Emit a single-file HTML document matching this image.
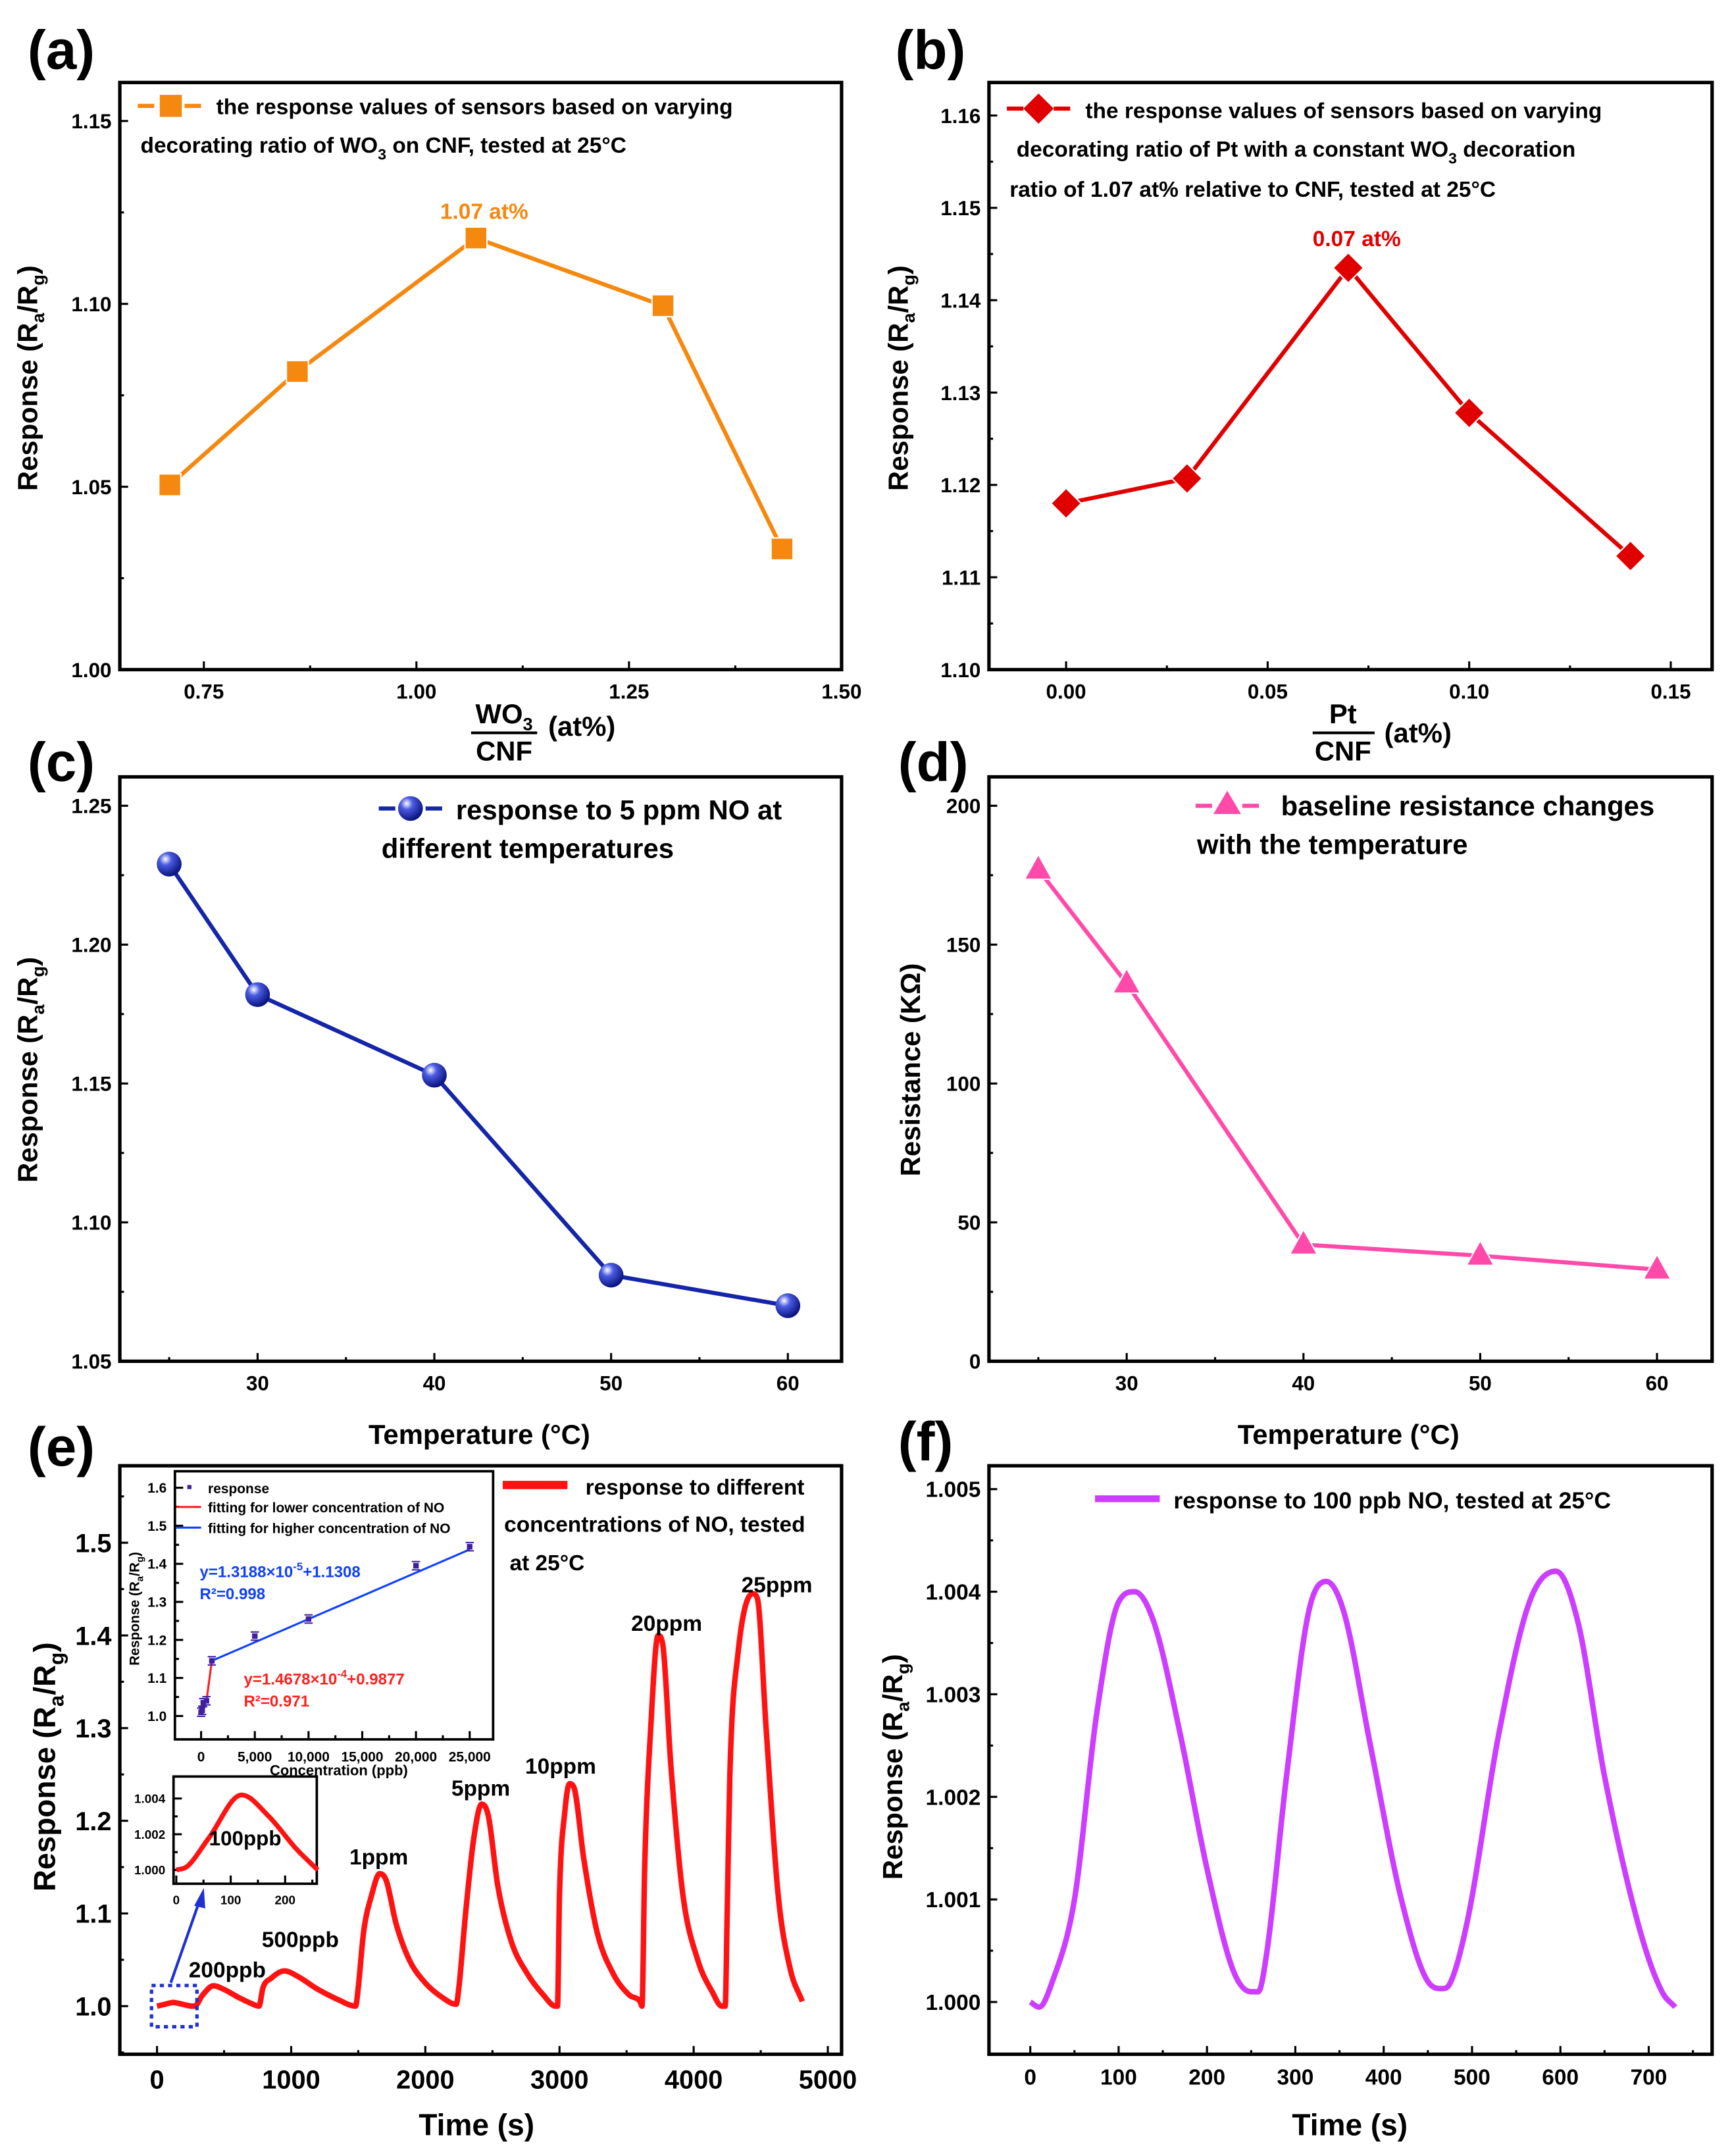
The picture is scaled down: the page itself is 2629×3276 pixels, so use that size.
<!DOCTYPE html>
<html><head><meta charset="utf-8"><style>
html,body{margin:0;padding:0;background:#fff}
svg{display:block}
text{font-family:"Liberation Sans",Arial,sans-serif;font-weight:bold}
</style></head><body>
<svg id="fig" xmlns="http://www.w3.org/2000/svg" width="2629" height="3276" viewBox="0 0 1256 1568" preserveAspectRatio="none">
<defs>
<radialGradient id="ball" cx="35%" cy="30%" r="70%"><stop offset="0" stop-color="#ffffff"/><stop offset="0.35" stop-color="#4a5be0"/><stop offset="1" stop-color="#0a1480"/></radialGradient>
</defs>
<g id="root"></g>
</svg>
<script>
// ---------- data ----------
const aX=[0.71,0.86,1.07,1.29,1.43];
const aY=[1.0505,1.0815,1.118,1.0995,1.033];
const aXTicks=[0.75,1.00,1.25,1.50];
const aYTicks=[1.00,1.05,1.10,1.15];
const bX=[0,0.03,0.07,0.10,0.14];
const bY=[1.118,1.1207,1.1435,1.1278,1.1123];
const bXTicks=[0.00,0.05,0.10,0.15];
const bYTicks=[1.10,1.11,1.12,1.13,1.14,1.15,1.16];
const cX=[25,30,40,50,60];
const cY=[1.229,1.182,1.153,1.081,1.070];
const cdXTicks=[30,40,50,60];
const cYTicks=[1.05,1.10,1.15,1.20,1.25];
const dY=[177,136,42,38,33];
const dYTicks=[0,50,100,150,200];
const eT=[0,60,120,190,260,280,340,420,500,600,700,760,790,850,950,1050,1200,1350,1480,1500,1540,1600,1660,1710,1780,1880,2000,2120,2230,2250,2300,2360,2420,2470,2540,2640,2760,2880,2970,2985,3000,3040,3075,3110,3180,3280,3400,3520,3600,3615,3635,3680,3735,3770,3830,3920,4030,4140,4210,4235,4250,4270,4330,4440,4475,4540,4630,4720,4810];
const eV=[1.0,1.002,1.004,1.002,1.0,1.0,1.012,1.022,1.018,1.01,1.003,1.0,1.02,1.03,1.038,1.032,1.018,1.007,1.0,1.02,1.08,1.12,1.143,1.135,1.09,1.05,1.025,1.01,1.002,1.02,1.10,1.18,1.218,1.205,1.13,1.07,1.035,1.012,1.0,1.0,1.12,1.21,1.24,1.235,1.16,1.08,1.035,1.012,1.005,1.0,1.15,1.30,1.40,1.39,1.26,1.12,1.05,1.015,1.0,1.0,1.10,1.25,1.38,1.445,1.44,1.30,1.12,1.04,1.005];
const eXTicks=[0,1000,2000,3000,4000,5000];
const eYTicks=[1.0,1.1,1.2,1.3,1.4,1.5];
const insX=[0,100,200,500,1000,5000,10000,20000,25000];
const insY=[1.01,1.015,1.035,1.04,1.145,1.21,1.255,1.395,1.445];
const insXTicks=[0,5000,10000,15000,20000,25000];
const insXLabels=["0","5,000","10,000","15,000","20,000","25,000"];
const insYTicks=[1.0,1.1,1.2,1.3,1.4,1.5,1.6];
const in2T=[0,20,60,120,170,220,260];
const in2V=[1.0,1.0002,1.0018,1.0042,1.003,1.0012,1.0];
const fT=[0,10,25,50,75,100,118,140,170,200,230,250,258,268,290,315,335,355,385,420,450,466,475,495,530,565,595,620,650,690,715,730];
const fV=[1.0,0.99995,1.0002,1.001,1.0028,1.0039,1.0040,1.0037,1.0026,1.0013,1.0003,1.0001,1.0001,1.0005,1.0022,1.0038,1.0041,1.0038,1.0025,1.001,1.0002,1.00013,1.00018,1.0008,1.0026,1.0039,1.0042,1.0037,1.0022,1.0007,1.0001,0.99995];
const fXTicks=[0,100,200,300,400,500,600,700];
const fYTicks=[1.000,1.001,1.002,1.003,1.004,1.005];

// ---------- helpers ----------
const NS="http://www.w3.org/2000/svg";
const root=document.getElementById('root');
function mk(tag,attrs,parent,txt){const e=document.createElementNS(NS,tag);for(const k in attrs)e.setAttribute(k,attrs[k]);if(txt!==undefined)e.textContent=txt;(parent||root).appendChild(e);return e;}
function lin(d0,d1,r0,r1){return v=>r0+(v-d0)*(r1-r0)/(d1-d0);}
function txt(x,y,s,size,opts,parent){const o=Object.assign({x:x,y:y,'font-size':size,fill:'#000'},opts||{});return mk('text',o,parent,s);}
// monotone cubic (Fritsch-Carlson) path
function smoothPath(px,py){const n=px.length;const d=[],m=new Array(n);for(let i=0;i<n-1;i++)d.push((py[i+1]-py[i])/(px[i+1]-px[i]));m[0]=d[0];m[n-1]=d[n-2];for(let i=1;i<n-1;i++){m[i]=(d[i-1]*d[i]<=0)?0:(d[i-1]+d[i])/2;}
for(let i=0;i<n-1;i++){if(d[i]===0){m[i]=0;m[i+1]=0;continue;}const a=m[i]/d[i],b=m[i+1]/d[i],s=a*a+b*b;if(s>9){const t=3/Math.sqrt(s);m[i]=t*a*d[i];m[i+1]=t*b*d[i];}}
let p='M'+px[0]+','+py[0];for(let i=0;i<n-1;i++){const h=(px[i+1]-px[i])/3;p+=' C'+(px[i]+h)+','+(py[i]+m[i]*h)+' '+(px[i+1]-h)+','+(py[i+1]-m[i+1]*h)+' '+px[i+1]+','+py[i+1];}return p;}
function axes(name,L,R,T,B,sx,sy,xt,yt,xl,yl,xMinor,yMinor,fs,lw){
  const g=mk('g',{},root);
  
  
  const f=fs||15, w=lw||2.5;
  xt.forEach((v,i)=>{const x=sx(v);mk('line',{x1:x,x2:x,y1:B,y2:B-6,stroke:'#000','stroke-width':1.5},g);const t=txt(x,B+f+6,xl?xl[i]:String(v),f,{'text-anchor':'middle'},g);});
  (xMinor||[]).forEach(v=>{const x=sx(v);if(x>L&&x<R)mk('line',{x1:x,x2:x,y1:B,y2:B-3,stroke:'#000','stroke-width':1.5},g);});
  yt.forEach((v,i)=>{const y=sy(v);mk('line',{x1:L,x2:L+6,y1:y,y2:y,stroke:'#000','stroke-width':1.5},g);const t=txt(L-6,y+f*0.36,yl?yl[i]:String(v),f,{'text-anchor':'end'},g);});
  (yMinor||[]).forEach(v=>{const y=sy(v);if(y>T&&y<B)mk('line',{x1:L,x2:L+3,y1:y,y2:y,stroke:'#000','stroke-width':1.5},g);});
  mk('rect',{x:L,y:T,width:R-L,height:B-T,fill:'none',stroke:'#000','stroke-width':w},g);
  return g;
}
function mids(a){const r=[];for(let i=0;i<a.length-1;i++)r.push((a[i]+a[i+1])/2);return r;}
function ylabel(x,y,html,size){const t=mk('text',{transform:`translate(${x},${y}) rotate(-90)`,'font-size':size,'text-anchor':'middle',fill:'#000'});t.innerHTML=html;return t;}
function panelLabel(x,y,s){const t=txt(x,y,s,40,{});}
const RaRg='Response (R<tspan font-size="13" dy="5">a</tspan><tspan dy="-5">/R</tspan><tspan font-size="13" dy="5">g</tspan><tspan dy="-5">)</tspan>';

// ---------- (a) ----------
panelLabel(20,50,'(a)');
{const L=87,R=611,T=60,B=487;const sx=lin(0.75,1.5,148,611),sy=lin(1.0,1.15,487,88);
axes('panel-a-axes',L,R,T,B,sx,sy,aXTicks,aYTicks,['0.75','1.00','1.25','1.50'],['1.00','1.05','1.10','1.15'],mids(aXTicks),[1.025,1.075,1.125]);
ylabel(27,275,RaRg,20);
const c='#F5880F';
const pl=mk('polyline',{points:aX.map((v,i)=>sx(v)+','+sy(aY[i])).join(' '),fill:'none',stroke:c,'stroke-width':3});

aX.forEach((v,i)=>{const r=mk('rect',{x:sx(v)-8,y:sy(aY[i])-8,width:16,height:16,fill:c,stroke:'#fff','stroke-width':1});});
const lg=mk('g',{});
mk('line',{x1:100,x2:148,y1:77,y2:77,stroke:c,'stroke-width':3,'stroke-dasharray':'12,5'},lg);mk('rect',{x:116,y:69,width:16,height:16,fill:c},lg);
txt(157,83,'the response values of sensors based on varying',16,{},lg);
const t2=txt(102,111,'',16,{},lg);t2.innerHTML='decorating ratio of WO<tspan font-size="11" dy="5">3</tspan><tspan dy="-5"> on CNF, tested at 25°C</tspan>';
const an=txt(sx(1.07)+6,sy(1.118)-14,'1.07 at%',16,{'text-anchor':'middle',fill:c});
const xt=mk('g',{});
const w1=txt(366,526,'',20,{'text-anchor':'middle'},xt);w1.innerHTML='WO<tspan font-size="13" dy="5">3</tspan>';
mk('line',{x1:342,x2:390,y1:533,y2:533,stroke:'#000','stroke-width':2},xt);txt(366,553,'CNF',20,{'text-anchor':'middle'},xt);txt(398,535,'(at%)',20,{},xt);}

// ---------- (b) ----------
panelLabel(650,50,'(b)');
{const L=718,R=1243,T=60,B=487;const sx=lin(0,0.15,774,1213),sy=lin(1.10,1.16,487,84);
axes('panel-b-axes',L,R,T,B,sx,sy,bXTicks,bYTicks,['0.00','0.05','0.10','0.15'],bYTicks.map(v=>v.toFixed(2)),[-0.025,0.025,0.075,0.125],mids(bYTicks));
ylabel(659,275,RaRg,20);
const c='#E00000';
const pl=mk('polyline',{points:bX.map((v,i)=>sx(v)+','+sy(bY[i])).join(' '),fill:'none',stroke:c,'stroke-width':3});

bX.forEach((v,i)=>{const x=sx(v),y=sy(bY[i]);const p=mk('polygon',{points:`${x},${y-11} ${x+11},${y} ${x},${y+11} ${x-11},${y}`,fill:c,stroke:'#fff','stroke-width':1});});
const lg=mk('g',{});
mk('line',{x1:731,x2:778,y1:79,y2:79,stroke:c,'stroke-width':3,'stroke-dasharray':'12,5'},lg);mk('polygon',{points:'754,68 765,79 754,90 743,79',fill:c},lg);
txt(788,86,'the response values of sensors based on varying',16,{},lg);
const t2=txt(738,114,'',16,{},lg);t2.innerHTML='decorating ratio of Pt with a constant WO<tspan font-size="11" dy="5">3</tspan><tspan dy="-5"> decoration</tspan>';
txt(733,143,'ratio of 1.07 at% relative to CNF, tested at 25°C',16,{},lg);
const an=txt(985,179,'0.07 at%',16,{'text-anchor':'middle',fill:c});
const xt=mk('g',{});
txt(975,526,'Pt',20,{'text-anchor':'middle'},xt);
mk('line',{x1:953,x2:998,y1:533,y2:533,stroke:'#000','stroke-width':2},xt);txt(975,553,'CNF',20,{'text-anchor':'middle'},xt);txt(1005,540,'(at%)',20,{},xt);}

// ---------- (c) ----------
panelLabel(20,568,'(c)');
{const L=87,R=611,T=565,B=990;const sx=lin(30,60,187,572),sy=lin(1.05,1.25,990,586);
axes('panel-c-axes',L,R,T,B,sx,sy,cdXTicks,cYTicks,null,cYTicks.map(v=>v.toFixed(2)),[25,35,45,55],mids(cYTicks));
ylabel(27,778,RaRg,20);
const c='#1525A8';
const pl=mk('polyline',{points:cX.map((v,i)=>sx(v)+','+sy(cY[i])).join(' '),fill:'none',stroke:c,'stroke-width':3});

cX.forEach((v,i)=>{const p=mk('circle',{cx:sx(v),cy:sy(cY[i]),r:9,fill:'url(#ball)'});});
const lg=mk('g',{});
mk('line',{x1:275,x2:322,y1:588,y2:588,stroke:c,'stroke-width':3,'stroke-dasharray':'12,5'},lg);mk('circle',{cx:298,cy:588,r:9,fill:'url(#ball)'},lg);
txt(331,596,'response to 5 ppm NO at',20,{},lg);txt(277,624,'different temperatures',20,{},lg);
const xt=txt(348,1050,'Temperature (°C)',20,{'text-anchor':'middle'});}

// ---------- (d) ----------
panelLabel(652,568,'(d)');
{const L=718,R=1243,T=565,B=990;const sx=lin(30,60,818,1203),sy=lin(0,200,990,586);
axes('panel-d-axes',L,R,T,B,sx,sy,cdXTicks,dYTicks,null,null,[25,35,45,55],[25,75,125,175]);
const yl=mk('text',{transform:'translate(668,778) rotate(-90)','font-size':20,'text-anchor':'middle'},root,'Resistance (KΩ)');
const c='#FF4AAA';
const pl=mk('polyline',{points:cX.map((v,i)=>sx(v)+','+sy(dY[i])).join(' '),fill:'none',stroke:c,'stroke-width':3});

cX.forEach((v,i)=>{const x=sx(v),y=sy(dY[i]);const p=mk('polygon',{points:`${x},${y-11} ${x+10},${y+7} ${x-10},${y+7}`,fill:c,stroke:'#fff','stroke-width':1});});
const lg=mk('g',{});
mk('line',{x1:868,x2:915,y1:586,y2:586,stroke:c,'stroke-width':3,'stroke-dasharray':'12,5'},lg);mk('polygon',{points:'891,575 901,592 881,592',fill:c},lg);
txt(930,593,'baseline resistance changes',20,{},lg);txt(869,621,'with the temperature',20,{},lg);
const xt=txt(979,1050,'Temperature (°C)',20,{'text-anchor':'middle'});}

// ---------- (e) ----------
panelLabel(20,1066,'(e)');
{const L=87,R=611,T=1066,B=1494;const sx=lin(0,5000,114,601),sy=lin(1.0,1.5,1459,1122);
axes('panel-e-axes',L,R,T,B,sx,sy,eXTicks,eYTicks,null,eYTicks.map(v=>v.toFixed(1)),[500,1500,2500,3500,4500],[0.95,1.05,1.15,1.25,1.35,1.45,1.55],19,2.5);
ylabel(40,1285,RaRg.replace(/13/g,'15').replace(/dy="5"/g,'dy="6"').replace(/dy="-5"/g,'dy="-6"'),22);
const c='#FF1212';
const p=mk('path',{d:smoothPath(eT.map(sx),eV.map(sy)),fill:'none',stroke:c,'stroke-width':4,'stroke-linejoin':'round'});

const labs=[['200ppb',165,1438],['500ppb',218,1416],['1ppm',275,1356],['5ppm',349,1306],['10ppm',407,1290],['20ppm',484,1186],['25ppm',564,1158]];
labs.forEach(l=>{const t=txt(l[1],l[2],l[0],16,{'text-anchor':'middle'});});
const lg=mk('g',{});
mk('line',{x1:365,x2:412,y1:1080,y2:1080,stroke:c,'stroke-width':6},lg);
txt(425,1087,'response to different',16,{},lg);txt(366,1114,'concentrations of NO, tested',16,{},lg);txt(370,1142,'at 25°C',16,{},lg);
const zb=mk('rect',{x:110,y:1444,width:33,height:30,fill:'none',stroke:'#2030d0','stroke-width':2.5,'stroke-dasharray':'3,3'});
const ar=mk('g',{});
mk('line',{x1:124,y1:1442,x2:145,y2:1382,stroke:'#2030d0','stroke-width':2},ar);mk('polygon',{points:'148,1373 141,1386 149,1388',fill:'#2030d0'},ar);
// inset 1
{const iL=127,iR=358,iT=1070,iB=1265;const ix=lin(0,25000,146,341),iy=lin(1.0,1.6,1248,1082);
axes('inset-calibration-axes',iL,iR,iT,iB,ix,iy,insXTicks,insYTicks,insXLabels,insYTicks.map(v=>v.toFixed(1)),[2500,7500,12500,17500,22500],mids(insYTicks),10,1.8);
const yl=mk('text',{transform:'translate(101,1170) rotate(-90)','font-size':10,'text-anchor':'middle'},root);yl.innerHTML='Response (R<tspan font-size="7" dy="3">a</tspan><tspan dy="-3">/R</tspan><tspan font-size="7" dy="3">g</tspan><tspan dy="-3">)</tspan>';

const xl=txt(246,1291,'Concentration (ppb)',10.5,{'text-anchor':'middle'});
const lowN=5;
const rl=mk('polyline',{points:insX.slice(0,lowN).map((v,i)=>ix(v)+','+iy(insY[i])).join(' '),fill:'none',stroke:'#ff2020','stroke-width':1.5});
const bl=mk('line',{x1:ix(insX[lowN-1]),y1:iy(insY[lowN-1]),x2:ix(insX[insX.length-1]),y2:iy(insY[insY.length-1])+2,stroke:'#1040ff','stroke-width':1.5});
insX.forEach((v,i)=>{const x=ix(v),y=iy(insY[i]);const pt=mk('g',{});mk('rect',{x:x-2,y:y-2,width:4,height:4,fill:'#4020a0'},pt);mk('line',{x1:x-3,x2:x+3,y1:y-3,y2:y-3,stroke:'#4020a0'},pt);mk('line',{x1:x-3,x2:x+3,y1:y+3,y2:y+3,stroke:'#4020a0'},pt);});
const il=mk('g',{});
mk('rect',{x:136,y:1080,width:3,height:3,fill:'#4020a0'},il);txt(151,1086,'response',10,{},il);
mk('line',{x1:128,x2:146,y1:1096,y2:1096,stroke:'#ff2020','stroke-width':1.5},il);txt(151,1100,'fitting for lower concentration of NO',10,{},il);
mk('line',{x1:128,x2:146,y1:1111,y2:1111,stroke:'#1040ff','stroke-width':1.5},il);txt(151,1115,'fitting for higher concentration of NO',10,{},il);
const e1=txt(145,1147,'',11.5,{fill:'#1040ff'},il);e1.innerHTML='y=1.3188×10<tspan font-size="8" dy="-5">-5</tspan><tspan dy="5">+1.1308</tspan>';
txt(145,1163,'R²=0.998',11.5,{fill:'#1040ff'},il);
const e2=txt(177,1225,'',11.5,{fill:'#ff2020'},il);e2.innerHTML='y=1.4678×10<tspan font-size="8" dy="-5">-4</tspan><tspan dy="5">+0.9877</tspan>';
txt(177,1241,'R²=0.971',11.5,{fill:'#ff2020'},il);}
// inset 2
{const iL=126,iR=230,iT=1292,iB=1370;const ix=lin(0,200,128,207),iy=lin(1.0,1.004,1360,1308);
axes('inset-100ppb-axes',iL,iR,iT,iB,ix,iy,[0,100,200],[1.0,1.002,1.004],null,['1.000','1.002','1.004'],[50,150,250],[1.001,1.003],9,1.8);
const pp=mk('path',{d:smoothPath(in2T.map(ix),in2V.map(iy)),fill:'none',stroke:c,'stroke-width':3.5});
const l=txt(178,1342,'100ppb',15,{'text-anchor':'middle'});}
const xt=txt(346,1553,'Time (s)',22,{'text-anchor':'middle'});}

// ---------- (f) ----------
panelLabel(652,1062,'(f)');
{const L=718,R=1243,T=1066,B=1494;const sx=lin(0,700,748,1197),sy=lin(1.0,1.005,1456,1083);
axes('panel-f-axes',L,R,T,B,sx,sy,fXTicks,fYTicks,null,fYTicks.map(v=>v.toFixed(3)),[50,150,250,350,450,550,650,750],mids(fYTicks),16,2.5);
ylabel(655,1285,RaRg,20);
const c='#CC3DFF';
const p=mk('path',{d:smoothPath(fT.map(sx),fV.map(sy)),fill:'none',stroke:c,'stroke-width':4});

const lg=mk('g',{});
mk('line',{x1:795,x2:842,y1:1090,y2:1090,stroke:c,'stroke-width':5},lg);
txt(852,1097,'response to 100 ppb NO, tested at 25°C',17,{},lg);
const xt=txt(980,1553,'Time (s)',22,{'text-anchor':'middle'});}
</script>
</body></html>
